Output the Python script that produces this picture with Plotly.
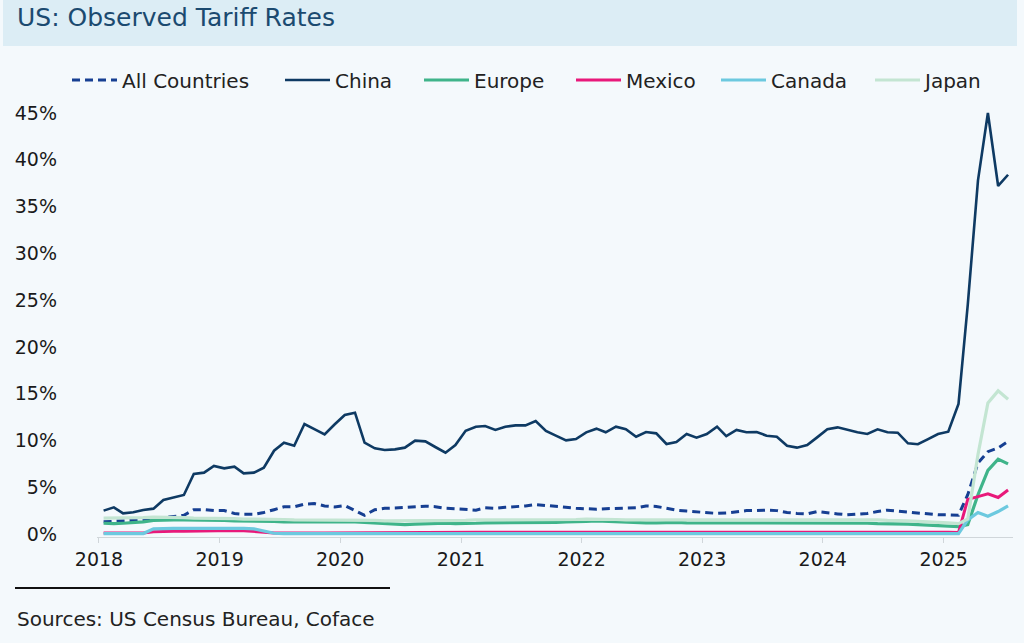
import plotly.graph_objects as go

# ---------------- data (monthly, Jan 2018 - Jul 2025, %) ----------------
months = [f"{y}-{m:02d}-15" for y in range(2018, 2026) for m in range(1, 13)][:91]

all_countries = [1.3, 1.35, 1.4, 1.45, 1.55, 1.6, 1.75, 1.85, 2.0, 2.6, 2.6, 2.5,
                 2.5, 2.2, 2.1, 2.1, 2.3, 2.6, 2.9, 2.9, 3.2, 3.25, 3.0, 2.9,
                 3.05, 2.5, 2.0, 2.6, 2.75, 2.78, 2.85, 2.92, 2.98, 2.92, 2.75, 2.7,
                 2.6, 2.55, 2.8, 2.75, 2.85, 2.9, 3.0, 3.15, 3.05, 2.9, 2.85, 2.75,
                 2.7, 2.65, 2.7, 2.75, 2.75, 2.8, 3.0, 2.95, 2.75, 2.55, 2.45, 2.35,
                 2.3, 2.2, 2.25, 2.35, 2.5, 2.5, 2.55, 2.5, 2.3, 2.2, 2.15, 2.4,
                 2.25, 2.15, 2.05, 2.1, 2.2, 2.4, 2.55, 2.45, 2.35, 2.2, 2.15, 2.05,
                 2.05, 2.0, 4.2, 7.6, 8.8, 9.2, 9.9]

china = [2.5, 2.85, 2.21, 2.32, 2.56, 2.71, 3.63, 3.88, 4.17, 6.41, 6.56, 7.27,
         7.02, 7.2, 6.48, 6.56, 7.09, 8.9, 9.76, 9.44, 11.76, 11.2, 10.65, 11.7,
         12.72, 12.97, 9.76, 9.16, 8.98, 9.05, 9.23, 9.98, 9.9, 9.3, 8.69, 9.51,
         11.04, 11.47, 11.54, 11.12, 11.47, 11.61, 11.61, 12.08, 11.01, 10.51, 10.01, 10.15,
         10.87, 11.26, 10.87, 11.47, 11.19, 10.4, 10.9, 10.76, 9.62, 9.83, 10.69, 10.29,
         10.69, 11.47, 10.47, 11.12, 10.87, 10.9, 10.51, 10.4, 9.44, 9.23, 9.51, 10.33,
         11.19, 11.4, 11.12, 10.87, 10.69, 11.19, 10.87, 10.83, 9.69, 9.59, 10.15, 10.69,
         10.94, 13.9, 24.5, 37.8, 45.0, 37.2, 38.4]

europe = [1.15, 1.1, 1.15, 1.2, 1.3, 1.45, 1.5, 1.5, 1.5, 1.5, 1.45, 1.45,
          1.45, 1.4, 1.4, 1.4, 1.35, 1.35, 1.3, 1.3, 1.3, 1.3, 1.3, 1.35,
          1.3, 1.3, 1.25, 1.2, 1.1, 1.05, 1.0, 1.05, 1.1, 1.15, 1.15, 1.1,
          1.1, 1.15, 1.2, 1.2, 1.2, 1.25, 1.2, 1.2, 1.25, 1.25, 1.3, 1.3,
          1.35, 1.4, 1.35, 1.3, 1.25, 1.2, 1.2, 1.2, 1.25, 1.25, 1.2, 1.2,
          1.15, 1.15, 1.2, 1.2, 1.2, 1.15, 1.15, 1.2, 1.2, 1.2, 1.15, 1.15,
          1.2, 1.2, 1.15, 1.15, 1.15, 1.1, 1.1, 1.05, 1.05, 1.0, 0.95, 0.85,
          0.8, 0.8, 1.0, 4.2, 6.8, 8.0, 7.5]

mexico = [0.1, 0.1, 0.1, 0.1, 0.1, 0.25, 0.3, 0.3, 0.3, 0.32, 0.35, 0.4,
          0.42, 0.38, 0.35, 0.3, 0.2, 0.12, 0.1, 0.1, 0.1, 0.1, 0.1, 0.1,
          0.12, 0.15, 0.12, 0.1, 0.1, 0.1, 0.12, 0.15, 0.15, 0.15, 0.12, 0.12,
          0.15, 0.18, 0.2, 0.2, 0.2, 0.2, 0.25, 0.22, 0.2, 0.18, 0.18, 0.2,
          0.2, 0.2, 0.2, 0.2, 0.22, 0.22, 0.2, 0.2, 0.2, 0.2, 0.2, 0.2,
          0.2, 0.2, 0.2, 0.2, 0.2, 0.22, 0.25, 0.22, 0.2, 0.2, 0.2, 0.2,
          0.2, 0.2, 0.2, 0.2, 0.2, 0.2, 0.2, 0.2, 0.2, 0.2, 0.2, 0.2,
          0.2, 0.15, 3.7, 4.0, 4.3, 3.9, 4.7]

canada = [0.05, 0.05, 0.05, 0.05, 0.05, 0.55, 0.6, 0.6, 0.6, 0.6, 0.62, 0.65,
          0.67, 0.65, 0.6, 0.55, 0.3, 0.08, 0.05, 0.05, 0.05, 0.05, 0.05, 0.05,
          0.05, 0.05, 0.05, 0.05, 0.05, 0.05, 0.05, 0.05, 0.05, 0.05, 0.05, 0.05,
          0.05, 0.05, 0.05, 0.05, 0.05, 0.05, 0.05, 0.05, 0.05, 0.05, 0.05, 0.05,
          0.05, 0.05, 0.05, 0.05, 0.05, 0.05, 0.05, 0.05, 0.05, 0.05, 0.05, 0.05,
          0.05, 0.05, 0.05, 0.05, 0.05, 0.05, 0.05, 0.05, 0.05, 0.05, 0.05, 0.05,
          0.05, 0.05, 0.05, 0.05, 0.05, 0.05, 0.05, 0.05, 0.05, 0.05, 0.05, 0.05,
          0.05, 0.05, 1.5, 2.3, 1.9, 2.4, 3.0]

japan = [1.7, 1.7, 1.75, 1.75, 1.75, 1.8, 1.8, 1.8, 1.75, 1.7, 1.7, 1.7,
         1.65, 1.65, 1.6, 1.6, 1.6, 1.55, 1.55, 1.5, 1.5, 1.5, 1.5, 1.5,
         1.5, 1.5, 1.45, 1.45, 1.4, 1.4, 1.4, 1.4, 1.45, 1.45, 1.4, 1.4,
         1.45, 1.5, 1.5, 1.5, 1.5, 1.5, 1.5, 1.5, 1.5, 1.55, 1.55, 1.55,
         1.6, 1.6, 1.6, 1.55, 1.5, 1.5, 1.5, 1.5, 1.55, 1.55, 1.5, 1.5,
         1.5, 1.5, 1.5, 1.5, 1.5, 1.5, 1.5, 1.55, 1.55, 1.55, 1.55, 1.55,
         1.55, 1.55, 1.5, 1.5, 1.5, 1.5, 1.45, 1.45, 1.4, 1.35, 1.3, 1.3,
         1.2, 1.1, 1.6, 8.5, 14.0, 15.3, 14.4]

year_ticks = [f"{y}-01-01" for y in range(2018, 2026)]
year_labels = [str(y) for y in range(2018, 2026)]
y_ticks = [0, 5, 10, 15, 20, 25, 30, 35, 40, 45]
y_labels = [f"{v}%" for v in y_ticks]

title_text = "US: Observed Tariff Rates"
source_text = "Sources: US Census Bureau, Coface"

# ---------------- figure ----------------
FONT = "DejaVu Sans"
W, H = 1024, 643
ML, MR, MT, MB = 97, 11, 110, 106
PW, PH = W - ML - MR, H - MT - MB


def px_x(px):
    return (px - ML) / PW


def px_y(py):
    return (H - MB - py) / PH


series = [
    ("All Countries", all_countries, "#163f92", 3.0, "8px,5px"),
    ("China", china, "#0e3a63", 2.6, "solid"),
    ("Europe", europe, "#3fb48a", 3.2, "solid"),
    ("Mexico", mexico, "#e8197a", 3.0, "solid"),
    ("Canada", canada, "#6cc9df", 3.2, "solid"),
    ("Japan", japan, "#c3e5d2", 3.2, "solid"),
]
legend_left_px = [67, 280, 419, 571, 716, 870]

fig = go.Figure()
legend_layout = {}
for i, (name, vals, color, width, dash) in enumerate(series):
    key = "legend" if i == 0 else f"legend{i + 1}"
    fig.add_trace(go.Scatter(
        x=months, y=vals, name=name, mode="lines",
        line=dict(color=color, width=width, dash=dash),
        legend=key,
    ))
    legend_layout[key] = dict(
        orientation="h", x=px_x(legend_left_px[i]), y=px_y(80),
        xanchor="left", yanchor="middle",
        font=dict(family=FONT, size=20, color="#222222"),
        itemwidth=45, bgcolor="rgba(0,0,0,0)",
    )

fig.update_layout(
    width=W, height=H,
    margin=dict(l=ML, r=MR, t=MT, b=MB),
    paper_bgcolor="#f4f9fc",
    plot_bgcolor="#f4f9fc",
    font=dict(family=FONT, size=19, color="#1a1a1a"),
    showlegend=True,
    xaxis=dict(
        type="date",
        range=["2017-12-26", "2025-07-30"],
        tickvals=year_ticks, ticktext=year_labels,
        showgrid=False, zeroline=False,
        showline=True, linecolor="#d0d6da", linewidth=1,
        ticks="outside", ticklen=5, tickcolor="#d0d6da",
        tickfont=dict(family=FONT, size=19, color="#1a1a1a"),
    ),
    yaxis=dict(
        range=[-0.32, 45.32],
        tickvals=y_ticks, ticktext=y_labels,
        showgrid=False, zeroline=False, showline=False,
        ticks="", ticklabelstandoff=39,
        tickfont=dict(family=FONT, size=19, color="#1a1a1a"),
    ),
    shapes=[
        dict(type="rect", xref="paper", yref="paper",
             x0=px_x(3), x1=px_x(1017), y0=px_y(46), y1=px_y(0),
             fillcolor="#dcedf5", line=dict(width=0), layer="below"),
        dict(type="line", xref="paper", yref="paper",
             x0=px_x(15), x1=px_x(390), y0=px_y(588), y1=px_y(588),
             line=dict(color="#111111", width=2)),
    ],
    annotations=[
        dict(text=title_text, xref="paper", yref="paper",
             x=px_x(15), y=px_y(18), xanchor="left", yanchor="middle",
             showarrow=False, font=dict(family=FONT, size=25, color="#1b4a70")),
        dict(text=source_text, xref="paper", yref="paper",
             x=px_x(15), y=px_y(619), xanchor="left", yanchor="middle",
             showarrow=False, font=dict(family=FONT, size=20, color="#222222")),
    ],
    **legend_layout,
)

fig.write_html("out.html", config={"displayModeBar": False},
               post_script="document.body.style.margin='0px';")
